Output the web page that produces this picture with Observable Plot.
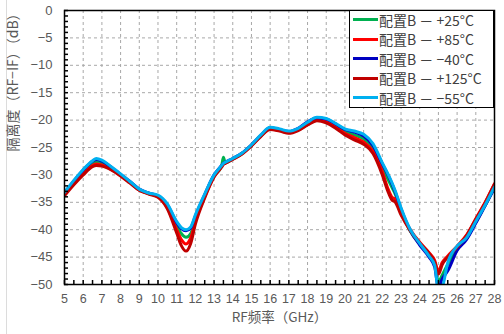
<!DOCTYPE html>
<html><head><meta charset="utf-8">
<script src="https://cdn.jsdelivr.net/npm/d3@7"></script>
<script src="https://cdn.jsdelivr.net/npm/@observablehq/plot@0.6"></script>
<style>
html,body{margin:0;padding:0;background:#fff;}
#wrap{position:relative;width:504px;height:334px;overflow:hidden;font-family:"Liberation Sans","Noto Sans CJK SC",sans-serif;}
#edge{position:absolute;left:6px;top:0;width:1px;height:334px;background:#dcdcdc;}
#legend{position:absolute;left:349px;top:10px;width:143px;height:96px;border:1.5px solid #000;background:#fff;box-sizing:content-box;overflow:hidden;}
.row{position:absolute;left:0;height:19px;display:flex;align-items:center;font-size:14px;color:#404040;white-space:pre;font-family:"Noto Sans CJK SC","Liberation Sans",sans-serif;}
.sw{display:inline-block;width:25px;height:3px;margin-left:3px;margin-right:1px;}
</style></head>
<body><div id="wrap"><div id="edge"></div></div>
<script>
const freq = [5,5.5,6,6.5,6.7,7,7.5,8,8.5,9,9.5,10,10.5,11,11.25,11.5,11.75,12,12.5,13,13.4,13.5,13.6,14,14.5,15,15.5,16,16.5,17,17.5,18,18.5,19,19.5,20,20.5,21,21.5,22,22.3,22.5,22.7,23,23.5,24,24.5,24.8,25,25.2,25.5,26,26.5,27,27.5,28];
const p25 = [-33.4,-31.3,-29.4,-27.8,-27.6,-27.9,-28.8,-30.0,-31.3,-32.7,-33.4,-33.9,-35.7,-39.3,-40.7,-41.4,-40.7,-38.0,-33.8,-30.2,-28.4,-26.8,-27.8,-27.1,-26.1,-24.6,-22.9,-21.5,-21.8,-22.2,-21.7,-20.6,-19.8,-20.0,-21.0,-22.0,-22.7,-23.4,-25.1,-28.6,-30.8,-32.2,-33.6,-36.5,-40.3,-42.6,-44.6,-46.2,-49.5,-48.3,-46.3,-43.4,-41.6,-38.6,-35.6,-32.2];
const p85 = [-33.6,-31.6,-29.8,-28.3,-28.0,-28.2,-29.0,-30.1,-31.4,-32.8,-33.4,-34.0,-36.0,-40.0,-41.8,-42.6,-41.5,-38.5,-34.0,-30.3,-28.5,-28.0,-27.8,-27.1,-26.1,-24.6,-22.9,-21.6,-21.9,-22.3,-21.8,-20.8,-20.0,-20.3,-21.3,-22.4,-23.2,-24.0,-25.7,-29.4,-32.5,-34.0,-34.5,-37.0,-40.0,-42.3,-44.2,-45.6,-47.6,-46.0,-44.8,-43.0,-41.0,-38.0,-35.0,-31.6];
const m40 = [-33.3,-31.1,-29.1,-27.5,-27.2,-27.5,-28.6,-29.9,-31.2,-32.6,-33.3,-33.8,-35.4,-38.7,-39.8,-40.2,-39.7,-37.5,-33.6,-30.0,-28.3,-27.9,-27.7,-27.0,-26.0,-24.5,-22.8,-21.4,-21.7,-22.1,-21.5,-20.3,-19.6,-19.8,-20.7,-21.7,-22.2,-22.9,-24.6,-28.0,-30.0,-31.5,-33.2,-36.2,-40.2,-42.8,-45.0,-46.8,-50.5,-49.0,-47.5,-43.8,-41.8,-38.8,-35.6,-32.4];
const p125 = [-33.8,-31.8,-30.0,-28.5,-28.3,-28.4,-29.1,-30.2,-31.5,-32.8,-33.5,-34.1,-36.2,-40.6,-42.9,-43.9,-42.5,-39.0,-34.2,-30.4,-28.6,-28.1,-27.9,-27.2,-26.2,-24.7,-23.0,-21.7,-22.0,-22.4,-21.9,-20.9,-20.1,-20.5,-21.5,-22.7,-23.6,-24.4,-26.1,-30.0,-33.0,-34.5,-35.0,-37.3,-40.2,-42.4,-44.3,-45.9,-48.1,-46.4,-45.0,-43.2,-41.1,-38.1,-35.1,-31.7];
const m55 = [-33.2,-31.0,-29.0,-27.4,-27.0,-27.3,-28.5,-29.8,-31.2,-32.6,-33.3,-33.7,-35.3,-38.5,-39.6,-40.0,-39.5,-37.3,-33.5,-30.0,-28.3,-27.9,-27.7,-27.0,-26.0,-24.5,-22.7,-21.3,-21.6,-22.0,-21.5,-20.4,-19.5,-19.7,-20.6,-21.6,-22.0,-22.6,-24.3,-27.8,-29.8,-31.3,-33.0,-36.0,-40.0,-42.5,-44.8,-46.5,-51.0,-50.5,-46.0,-43.0,-41.5,-38.5,-35.5,-32.2];
const seriesNames = ["配置B － +25°C","配置B － +85°C","配置B － −40°C","配置B － +125°C","配置B － −55°C"];
const seriesColors = ["#00B050","#FF0000","#0000C0","#C00000","#00B0F0"];
const seriesValues = [p25,p85,m40,p125,m55];
const xTicks = d3.range(5, 29, 1);
const yTicks = d3.range(-50, 1, 5);
const xTitle = "RF频率（GHz）";
const yTitle = "隔离度（RF−IF）（dB）";

const rows = [];
seriesValues.forEach((vals, i) => vals.forEach((v, j) => rows.push({f: freq[j], v, s: seriesNames[i]})));

const txt = "#595959";
const chart = Plot.plot({
  width: 504, height: 334,
  marginLeft: 64, marginRight: 10, marginTop: 10, marginBottom: 50,
  style: {fontFamily: "'Liberation Sans', sans-serif", fontSize: "12.5px", color: txt, background: "transparent"},
  x: {domain: [5, 28]},
  y: {domain: [-50, 0]},
  color: {domain: seriesNames, range: seriesColors},
  marks: [
    Plot.gridX({ticks: d3.range(6, 28, 1), stroke: "#a8a8a8", strokeOpacity: 1, strokeDasharray: "3,3"}),
    Plot.gridY({ticks: d3.range(-45, 0, 5), stroke: "#a8a8a8", strokeOpacity: 1, strokeDasharray: "3,3"}),
    ...seriesNames.map((name, i) => Plot.line(rows.filter(d => d.s === name), {x: "f", y: "v", stroke: seriesColors[i], strokeWidth: 3, curve: "monotone-x", clip: true})),
    Plot.axisX({ticks: xTicks, tickSize: 0, tickPadding: 10, label: null, fill: txt, fontSize: 12.5}),
    Plot.axisY({ticks: yTicks, tickSize: 0, tickPadding: 12, label: null, fill: txt, fontSize: 13, tickFormat: d => d < 0 ? "−" + Math.abs(d) : String(d)}),
    Plot.axisX({ticks: d3.range(5, 28.01, 0.5), tickSize: 4, dy: -4, tickFormat: () => "", label: null, stroke: "#000", strokeWidth: 1.5}),
    Plot.axisY({ticks: d3.range(-50, 0.01, 1), tickSize: 4, dx: 4, tickFormat: () => "", label: null, stroke: "#000", strokeWidth: 1.5}),
    Plot.frame({stroke: "#000", strokeWidth: 1.5}),
    Plot.text([xTitle], {frameAnchor: "bottom", dy: 33, fill: txt, fontSize: 13.5, fontFamily: "'Noto Sans CJK SC', sans-serif", lineAnchor: "middle"}),
    Plot.text([yTitle], {frameAnchor: "left", dx: -51, dy: 4, rotate: -90, fill: txt, fontSize: 14, fontFamily: "'Noto Sans CJK SC', sans-serif", lineAnchor: "middle"})
  ]
});
chart.style.position = "absolute";
chart.style.left = "0px";
chart.style.top = "0px";
document.getElementById("wrap").appendChild(chart);

const leg = document.createElement("div");
leg.id = "legend";
seriesNames.forEach((n, i) => {
  const r = document.createElement("div");
  r.className = "row";
  r.style.top = (i * 19.5) - 1 + "px";
  const sw = document.createElement("span");
  sw.className = "sw";
  sw.style.background = seriesColors[i];
  r.appendChild(sw);
  r.appendChild(document.createTextNode(n));
  leg.appendChild(r);
});
document.getElementById("wrap").appendChild(leg);
</script>
</body></html>
